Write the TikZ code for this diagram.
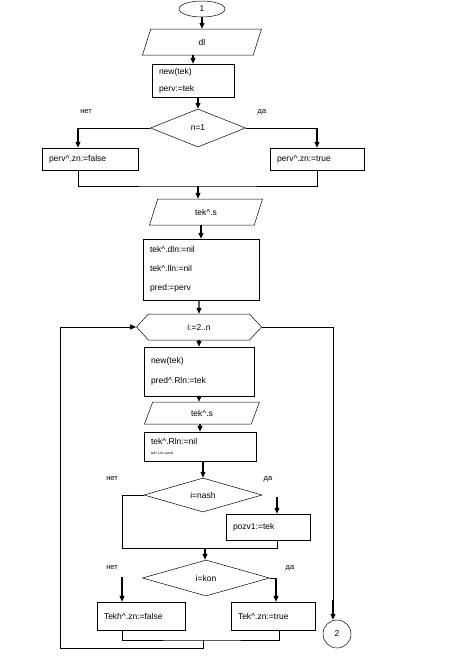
\documentclass[tikz,border=0pt]{standalone}
\usepackage{fontspec}
\setmainfont{Liberation Sans}
\usetikzlibrary{arrows.meta,shapes.geometric,shapes.symbols}
\newcommand{\crt}{\textasciicircum}
\tikzset{
    txt/.style={font=\fontsize{8.5}{9}\selectfont},
    box/.style={txt, draw, line width=0.5pt, rectangle, align=left, inner xsep=7pt, inner ysep=1pt},
    datain/.style={txt, draw, line width=0.5pt, trapezium, trapezium left angle=45, trapezium right angle=135,
        trapezium stretches body=true, inner sep=1pt},
    cond/.style={txt, draw, line width=0.5pt, diamond, inner sep=0pt},
    loophex/.style={txt, draw, line width=0.5pt, signal, signal to=west and east, signal pointer angle=95, inner sep=1pt},
    conn/.style={txt, draw, line width=0.5pt, ellipse, inner sep=0pt},
    arr/.style={line width=1.3pt, -{Triangle[length=6pt,width=5pt]}},
    ln/.style={line width=0.5pt},
    back/.style={line width=0.9pt},
    yesno/.style={font=\fontsize{7.5}{8}\selectfont}
}
\begin{document}
\begin{tikzpicture}[x=1pt,y=-1pt]
    \useasboundingbox[fill=white] (0,0) rectangle (467,665);

    \node[conn, minimum width=46pt, minimum height=16pt] (start) at (202,9) {1};
    \node[datain, minimum width=119pt, minimum height=26pt] (dl) at (202,42) {dl};
    \node[box, text width=68pt, minimum height=33pt] (first) at (193,80.5) {new(tek)\\[8pt]perv:=tek};
    \node[cond, minimum width=95pt, minimum height=38pt] (isone) at (198,128) {n=1};
    \node[box, text width=82pt, minimum height=22pt] (zfalse) at (90,159) {perv\crt.zn:=false};
    \node[box, text width=80pt, minimum height=22pt] (ztrue) at (317,159) {perv\crt.zn:=true};
    \node[yesno] at (86,112) {нет};
    \node[yesno] at (262,112) {да};
    \coordinate (zfin) at ([xshift=-12pt]zfalse.north);
    \coordinate (zfout) at ([xshift=-12pt]zfalse.south);
    \coordinate (join1) at (198,186);

    \node[datain, minimum width=113pt, minimum height=26pt] (readone) at (206,212) {tek\crt.s};
    \node[box, text width=102pt, minimum height=61pt] (links) at (201,269.5)
        {tek\crt.dln:=nil\\[10pt]tek\crt.lln:=nil\\[10pt]pred:=perv};

    \node[loophex, minimum width=125pt, minimum height=26pt] (loop) at (199,327) {i:=2..n};
    \node[box, text width=96pt, minimum height=49pt] (next) at (199,371.5) {new(tek)\\[11pt]pred\crt.Rln:=tek};
    \node[datain, minimum width=115pt, minimum height=22pt] (readnext) at (202,413) {tek\crt.s};
    \node[box, text width=98pt, minimum height=29pt] (setr) at (200,446.5)
        {tek\crt.Rln:=nil\\[1pt]{\fontsize{3.5}{4}\selectfont tek\crt.Lln:=pred}};

    \node[cond, minimum width=118pt, minimum height=34pt] (isnach) at (203,495) {i=nash};
    \node[box, text width=70pt, minimum height=26pt] (keep) at (268,527) {pozv1:=tek};
    \node[yesno] at (112,479) {нет};
    \node[yesno] at (268,479) {да};
    \coordinate (yes2) at (277,497);
    \coordinate (keepin) at ([xshift=9pt]keep.north);
    \coordinate (keepout) at ([xshift=9pt]keep.south);
    \coordinate (no2) at (122,548);
    \coordinate (join2) at (205,548);

    \node[cond, minimum width=127pt, minimum height=36pt] (iskon) at (206,578) {i=kon};
    \node[box, text width=74pt, minimum height=28pt] (tfalse) at (141,616) {Tekh\crt.zn:=false};
    \node[box, text width=70pt, minimum height=28pt] (ttrue) at (273,616) {Tek\crt.zn:=true};
    \node[yesno] at (112,568) {нет};
    \node[yesno] at (290,568) {да};
    \coordinate (no3) at (122,577);
    \coordinate (tfin) at ([xshift=-19pt]tfalse.north);
    \coordinate (tfout) at ([xshift=-19pt]tfalse.south);
    \coordinate (ttin) at ([xshift=3pt]ttrue.north);
    \coordinate (ttout) at ([xshift=6pt]ttrue.south);
    \coordinate (join3) at (203,640);
    \coordinate (back) at (60,648);

    \node[conn, minimum size=28pt] (two) at (337,634) {2};
    \coordinate (twoin) at ([xshift=-4pt]two.north);
    \coordinate (drop) at (333,600);

    \draw[arr] (start) -- (dl);
    \draw[arr] (dl.south -| first.south) -- (first);
    \draw[arr] (first.south -| isone.north) -- (isone);
    \draw[ln] (isone.west) -- (isone.west -| zfin);
    \draw[arr] (isone.west -| zfin) -- (zfin);
    \draw[ln] (isone.east) -- (isone.east -| ztrue.north);
    \draw[arr] (isone.east -| ztrue.north) -- (ztrue);
    \draw[ln] (zfout) |- (join1) -| (ztrue.south);
    \draw[arr] (join1) -- (join1 |- readone.north);
    \draw[arr] (readone.south -| links.north) -- (links);
    \draw[arr] (links.south -| loop.north) -- (loop);
    \draw[arr] (loop.south -| next.north) -- (next);
    \draw[arr] (next.south) -- (next.south |- readnext.north);
    \draw[arr] (readnext.south -| setr.north) -- (setr);
    \draw[arr] (setr.south -| isnach.north) -- (isnach);
    \draw[ln] (isnach.west) -| (no2) -| (keepout);
    \draw[arr] (yes2) -- (keepin);
    \draw[arr] (join2) -- (join2 |- iskon.north);
    \draw[arr] (no3) -- (tfin);
    \draw[ln] (iskon.east) -- (iskon.east -| ttin);
    \draw[arr] (iskon.east -| ttin) -- (ttin);
    \draw[ln] (tfout) |- (join3) -| (ttout);
    \draw[back] (join3) |- (back);
    \draw[back, -{Triangle[length=6pt,width=5pt]}] (back) |- (loop.west);
    \draw[back] (loop.east) -| (drop);
    \draw[arr] (drop) -- (twoin);
\end{tikzpicture}
\end{document}
